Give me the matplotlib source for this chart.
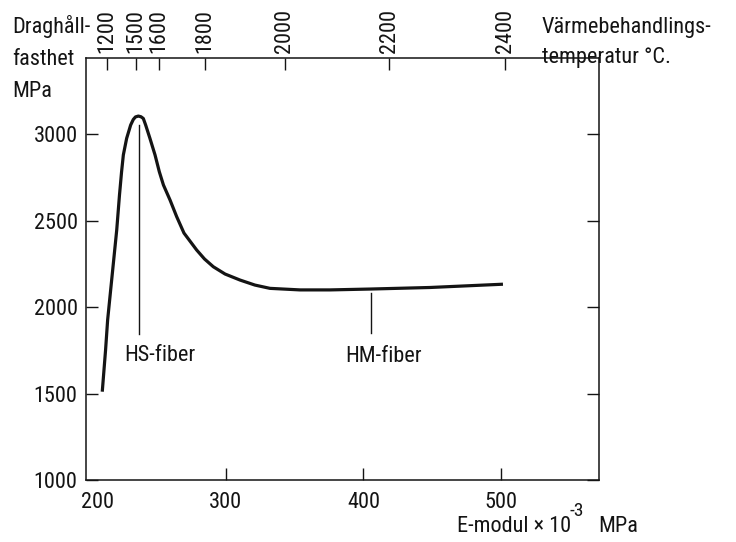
import matplotlib
matplotlib.use("Agg")
import matplotlib.pyplot as plt
from matplotlib import font_manager
from matplotlib.transforms import ScaledTranslation

# Tensile strength of carbon fibre versus Young's modulus
e_modulus = [210.5, 212.9, 214.4, 216.6, 218.8, 221.0, 223.0, 224.5, 225.8, 228.2,
             231.1, 233.0, 234.6, 236.7, 238.6, 240.3, 242.0, 245.1, 248.8, 251.9,
             254.9, 259.7, 264.5, 269.8, 279.0, 284.7, 291.1, 299.6, 310.5, 321.3,
             332.2, 354.0, 375.8, 404.8, 448.3, 501.3]
strength = [1511, 1752, 1926, 2100, 2273, 2447, 2649, 2782, 2881, 2977,
            3054, 3086, 3101, 3106, 3102, 3092, 3054, 2977, 2881, 2784,
            2707, 2620, 2524, 2429, 2331, 2279, 2234, 2192, 2157, 2128,
            2109, 2100, 2100, 2105, 2114, 2133]

# Bottom axis (E-modul x 10^-3 MPa) and left axis (MPa)
modulus_start = 200
modulus_ticks = [300, 400, 500]
strength_ticks = [1000, 1500, 2000, 2500, 3000]

# Heat-treatment temperature (top axis) placed at the matching modulus
temp_labels = ["1200", "1500", "1600", "1800", "2000", "2200", "2400"]
temp_modulus = [213.9, 234.8, 251.9, 285.1, 343.1, 418.8, 502.8]

# Fibre grade markers: (label, modulus, top of marker, bottom of marker)
hs_fiber = ("HS-fiber", 237.2, 3054, 1845)
hm_fiber = ("HM-fiber", 405.3, 2084, 1852)

# pick a narrow sans face if one is installed
names = {f.name for f in font_manager.fontManager.ttflist}
stretch = "normal"
family = "DejaVu Sans"
for cand in ["Liberation Sans Narrow", "Roboto Condensed", "Open Sans Condensed"]:
    if cand in names:
        family = cand
        break
else:
    if any(f.name == "DejaVu Sans" and f.stretch == "condensed"
           for f in font_manager.fontManager.ttflist):
        stretch = "condensed"
plt.rcParams["font.family"] = [family, "DejaVu Sans"]
plt.rcParams["font.stretch"] = stretch

INK = "#141414"
FS = 16

fig = plt.figure(figsize=(7.36, 5.42), dpi=100)
fig.patch.set_facecolor("white")
ax = fig.add_axes([86 / 736, 1 - 480 / 542, (599 - 86) / 736, (480 - 58) / 542])

ax.plot(e_modulus, strength, color=INK, lw=2.3, solid_joinstyle="round",
        solid_capstyle="butt")

ax.set_xlim(198.7, 571)
ax.set_ylim(1000, 3442)
ax.set_xticks(modulus_ticks)
ax.set_xticklabels([str(v) for v in modulus_ticks])
# the 200 mark sits on the frame itself: label only, no tick line
ax.set_xticks([modulus_start], minor=True)
ax.set_xticklabels([str(modulus_start)], minor=True)
ax.set_yticks(strength_ticks)
ax.set_yticklabels([str(v) for v in strength_ticks])

for sp in ax.spines.values():
    sp.set_linewidth(1.1)
    sp.set_color(INK)
ax.tick_params(axis="both", direction="in", length=8.6, width=1.0, color=INK,
               labelsize=FS, labelcolor=INK)
ax.tick_params(axis="x", pad=8.5, top=False)
ax.tick_params(axis="x", which="minor", length=0, pad=8.5, labelsize=FS,
               labelcolor=INK, top=False)
ax.tick_params(axis="y", pad=6, right=True)

for lab in ax.get_xticklabels(minor=True):
    lab.set_transform(lab.get_transform() + ScaledTranslation(10 / 100, 0, fig.dpi_scale_trans))

# top axis: heat-treatment temperature
ax2 = ax.twiny()
ax2.set_xlim(ax.get_xlim())
ax2.set_xticks(temp_modulus)
ax2.set_xticklabels(temp_labels, rotation=90)
ax2.tick_params(axis="x", direction="in", length=8.6, width=1.0, color=INK,
                labelsize=FS, labelcolor=INK, pad=3.5)
for sp in ax2.spines.values():
    sp.set_visible(False)

# fibre grade markers
for name, xm, ytop, ybot in (hs_fiber, hm_fiber):
    ax.plot([xm, xm], [ytop, ybot], color=INK, lw=1.0)
ax.text(226.5, 1689, hs_fiber[0], fontsize=FS, color=INK, ha="left", va="baseline")
ax.text(386.7, 1683, hm_fiber[0], fontsize=FS, color=INK, ha="left", va="baseline")


def px(x, y):
    return x / 736, 1 - y / 542


# axis titles
for txt, (x, y) in [("Draghåll-", (12, 33)), ("fasthet", (12, 65)), ("MPa", (12, 96.7)),
                    ("Värmebehandlings-", (542, 33)), ("temperatur °C.", (542, 63.3)),
                    ("E-modul × 10", (457, 531.7)), ("MPa", (598, 531.7))]:
    fig.text(*px(x, y), txt, fontsize=FS, color=INK, ha="left", va="baseline")
fig.text(*px(570, 516), "-3", fontsize=14, color=INK, ha="left", va="baseline")

fig.savefig("out.png", dpi=100, facecolor="white")
